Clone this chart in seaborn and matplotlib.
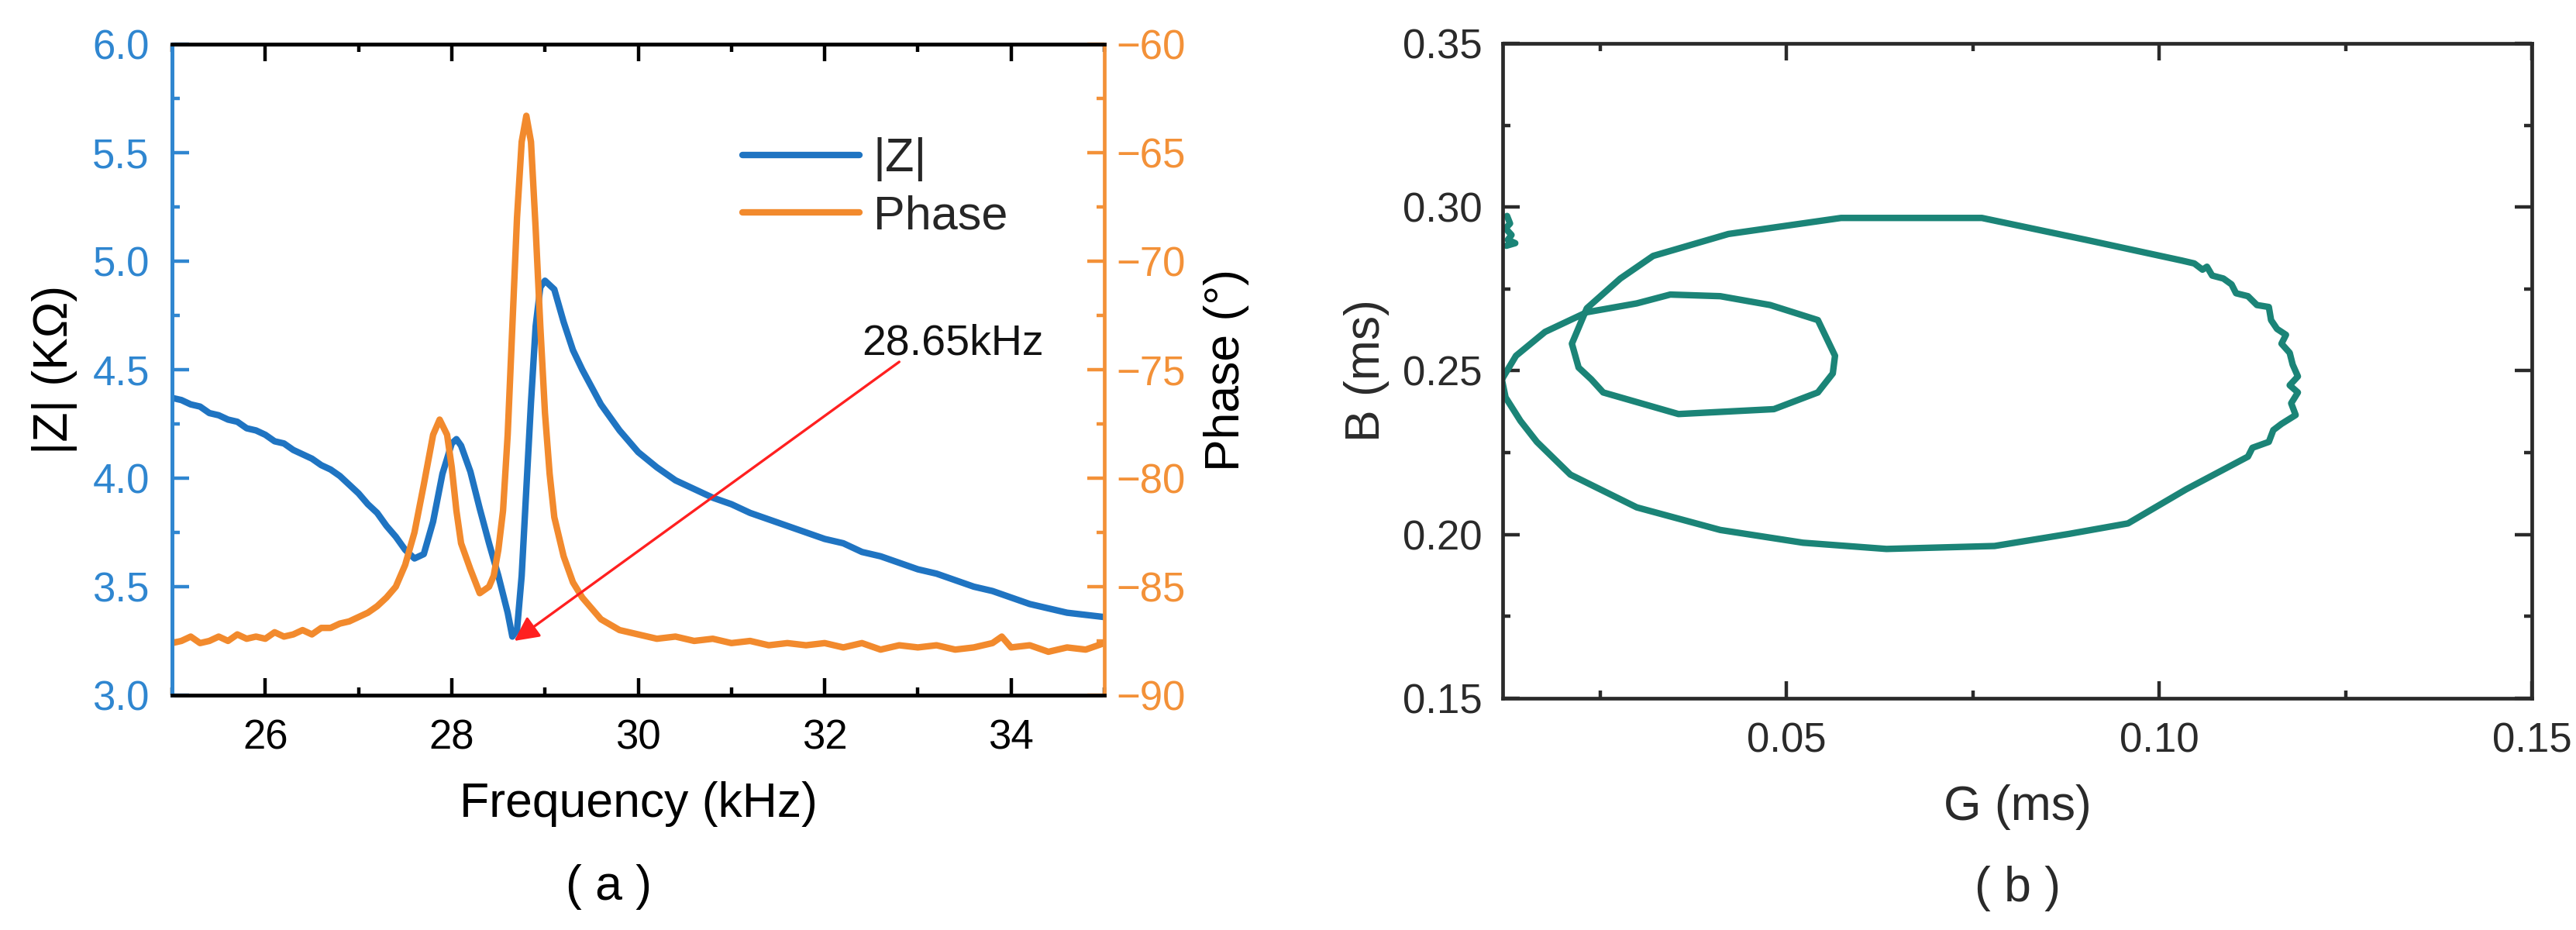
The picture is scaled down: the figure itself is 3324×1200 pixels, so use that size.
import matplotlib
matplotlib.use("Agg")
import matplotlib.pyplot as plt
from matplotlib.ticker import MultipleLocator, FormatStrFormatter
from matplotlib.lines import Line2D
import seaborn as sns

# (a) impedance and phase vs frequency
freq_z = [25.0, 25.1, 25.2, 25.3, 25.4, 25.5, 25.6, 25.7, 25.8, 25.9, 26.0, 26.1, 26.2,
          26.3, 26.4, 26.5, 26.6, 26.7, 26.8, 26.9, 27.0, 27.1, 27.2, 27.3, 27.4, 27.5,
          27.6, 27.7, 27.8, 27.9, 28.0, 28.05, 28.1, 28.2, 28.3, 28.4, 28.5, 28.6, 28.65,
          28.7, 28.75, 28.8, 28.85, 28.9, 28.95, 29.0, 29.1, 29.2, 29.3, 29.4, 29.5, 29.6,
          29.8, 30.0, 30.2, 30.4, 30.6, 30.8, 31.0, 31.2, 31.4, 31.6, 31.8, 32.0, 32.2,
          32.4, 32.6, 32.8, 33.0, 33.2, 33.4, 33.6, 33.8, 34.0, 34.2, 34.4, 34.6, 34.8, 35.0]
z_mag = [4.37, 4.36, 4.34, 4.33, 4.30, 4.29, 4.27, 4.26, 4.23, 4.22, 4.20, 4.17, 4.16,
         4.13, 4.11, 4.09, 4.06, 4.04, 4.01, 3.97, 3.93, 3.88, 3.84, 3.78, 3.73, 3.67,
         3.63, 3.65, 3.80, 4.02, 4.16, 4.18, 4.15, 4.03, 3.86, 3.70, 3.55, 3.38, 3.27,
         3.30, 3.55, 3.95, 4.35, 4.70, 4.88, 4.91, 4.87, 4.72, 4.59, 4.50, 4.42, 4.34,
         4.22, 4.12, 4.05, 3.99, 3.95, 3.91, 3.88, 3.84, 3.81, 3.78, 3.75, 3.72, 3.70,
         3.66, 3.64, 3.61, 3.58, 3.56, 3.53, 3.50, 3.48, 3.45, 3.42, 3.40, 3.38, 3.37, 3.36]

freq_p = [25.0, 25.1, 25.2, 25.3, 25.4, 25.5, 25.6, 25.7, 25.8, 25.9, 26.0, 26.1, 26.2,
          26.3, 26.4, 26.5, 26.6, 26.7, 26.8, 26.9, 27.0, 27.1, 27.2, 27.3, 27.4, 27.5,
          27.6, 27.7, 27.8, 27.87, 27.95, 28.0, 28.05, 28.1, 28.2, 28.3, 28.4, 28.45,
          28.5, 28.55, 28.6, 28.65, 28.7, 28.75, 28.8, 28.85, 28.9, 28.95, 29.0, 29.05,
          29.1, 29.2, 29.3, 29.4, 29.5, 29.6, 29.8, 30.0, 30.2, 30.4, 30.6, 30.8, 31.0,
          31.2, 31.4, 31.6, 31.8, 32.0, 32.2, 32.4, 32.6, 32.8, 33.0, 33.2, 33.4, 33.6,
          33.8, 33.9, 34.0, 34.2, 34.4, 34.6, 34.8, 35.0]
phase = [-87.6, -87.5, -87.3, -87.6, -87.5, -87.3, -87.5, -87.2, -87.4, -87.3, -87.4,
         -87.1, -87.3, -87.2, -87.0, -87.2, -86.9, -86.9, -86.7, -86.6, -86.4, -86.2,
         -85.9, -85.5, -85.0, -84.0, -82.5, -80.3, -78.0, -77.3, -78.0, -79.5, -81.5,
         -83.0, -84.2, -85.3, -85.0, -84.5, -83.3, -81.5, -78.0, -73.0, -68.0, -64.5,
         -63.3, -64.5, -68.5, -73.0, -77.0, -79.8, -81.8, -83.6, -84.8, -85.5, -86.0,
         -86.5, -87.0, -87.2, -87.4, -87.3, -87.5, -87.4, -87.6, -87.5, -87.7, -87.6,
         -87.7, -87.6, -87.8, -87.6, -87.9, -87.7, -87.8, -87.7, -87.9, -87.8, -87.6,
         -87.3, -87.8, -87.7, -88.0, -87.8, -87.9, -87.6]

# (b) admittance loop, G vs B
g_loop = [0.0118, 0.0137, 0.0176, 0.0232, 0.0299, 0.0344, 0.0411, 0.0478, 0.0542, 0.0565,
          0.0562, 0.0542, 0.0483, 0.0355, 0.0254, 0.0238, 0.0221, 0.0212, 0.0232, 0.0277,
          0.0321, 0.0422, 0.0573, 0.0762, 0.0902, 0.1030, 0.1047, 0.1058, 0.1064, 0.1071,
          0.1086, 0.1097, 0.1103, 0.1119, 0.1131, 0.1147, 0.1150, 0.1158, 0.1170, 0.1164,
          0.1175, 0.1179, 0.1186, 0.1175, 0.1186, 0.1177, 0.1183, 0.1164, 0.1153, 0.1147,
          0.1125, 0.1119, 0.1036, 0.0958, 0.0879, 0.0779, 0.0634, 0.0522, 0.0411, 0.0299,
          0.0210, 0.0165, 0.0143, 0.0123, 0.0118]
b_loop = [0.2474, 0.2546, 0.2619, 0.2679, 0.2706, 0.2733, 0.2728, 0.2701, 0.2655, 0.2546,
          0.2492, 0.2434, 0.2383, 0.2368, 0.2434, 0.2474, 0.2510, 0.2583, 0.2691, 0.2782,
          0.2851, 0.2918, 0.2967, 0.2967, 0.2900, 0.2837, 0.2828, 0.2809, 0.2818, 0.2791,
          0.2782, 0.2764, 0.2737, 0.2728, 0.2701, 0.2695, 0.2655, 0.2628, 0.2610, 0.2583,
          0.2555, 0.2519, 0.2483, 0.2456, 0.2434, 0.2401, 0.2365, 0.2338, 0.2319, 0.2283,
          0.2265, 0.2238, 0.2138, 0.2034, 0.2002, 0.1965, 0.1956, 0.1975, 0.2014, 0.2083,
          0.2183, 0.2283, 0.2347, 0.2419, 0.2474]
g_edge = [0.0125, 0.0129, 0.0123, 0.0131, 0.0126, 0.0136, 0.0124]
b_edge = [0.2973, 0.2950, 0.2935, 0.2915, 0.2900, 0.2890, 0.2882]

blue = "#1f74c2"
blue_ax = "#2f86d0"
orange = "#f28a2d"
orange_ax = "#f39138"
teal = "#1b8477"
dark = "#2a2a2a"

sns.set_theme(style="ticks")
plt.rcParams["font.family"] = ["Liberation Sans", "DejaVu Sans"]
plt.rcParams["axes.linewidth"] = 3.4

fig = plt.figure(figsize=(33.24, 12), dpi=100)
ax = fig.add_axes([0.0668, 0.2525, 0.3619, 0.7000])
ax2 = ax.twinx()
axb = fig.add_axes([0.5833, 0.2492, 0.3996, 0.7041])

tick_fs = 38
label_fs = 45
lw = 6

# --- panel (a) ---
sns.lineplot(x=freq_z, y=z_mag, ax=ax, color=blue, linewidth=lw, sort=False, estimator=None)
sns.lineplot(x=freq_p, y=phase, ax=ax2, color=orange, linewidth=lw, sort=False, estimator=None)

ax.set_xlim(25, 35)
ax.set_ylim(3.0, 6.0)
ax2.set_ylim(-90, -60)
ax.xaxis.set_major_locator(MultipleLocator(2))
ax.xaxis.set_minor_locator(MultipleLocator(1))
ax.yaxis.set_major_locator(MultipleLocator(0.5))
ax.yaxis.set_minor_locator(MultipleLocator(0.25))
ax.yaxis.set_major_formatter(FormatStrFormatter("%.1f"))
ax2.yaxis.set_major_locator(MultipleLocator(5))
ax2.yaxis.set_minor_locator(MultipleLocator(2.5))

ax.tick_params(axis="x", which="both", direction="in", top=True, bottom=True,
               colors="black", labelsize=tick_fs, pad=22, width=3.2)
ax.tick_params(axis="y", which="both", direction="in", left=True, right=False,
               colors=blue_ax, labelsize=tick_fs, pad=21, width=3.2)
ax2.tick_params(axis="y", which="both", direction="in", right=True, left=False,
                colors=orange_ax, labelsize=tick_fs, pad=11, width=3.2)
for a in (ax, ax2):
    a.tick_params(which="major", length=16)
    a.tick_params(which="minor", length=7)

ax.spines["right"].set_visible(False)
ax2.spines["left"].set_color(blue_ax)
ax.spines["left"].set_color(blue_ax)
ax2.spines["right"].set_color(orange_ax)
for a in (ax, ax2):
    a.spines["top"].set_color("black")
    a.spines["bottom"].set_color("black")

ax.set_xlabel("Frequency (kHz)", fontsize=label_fs, color="black", labelpad=22)
ax.set_ylabel("|Z| (KΩ)", fontsize=label_fs, color="black", labelpad=14)
ax2.set_ylabel("Phase (°)", fontsize=label_fs, color="black", labelpad=17)

handles = [Line2D([], [], color=blue, linewidth=lw), Line2D([], [], color=orange, linewidth=lw)]
ax2.legend(handles, ["|Z|", "Phase"], loc="upper left", bbox_to_anchor=(0.612, 0.857),
           frameon=False, fontsize=44, handlelength=2.46, handletextpad=0.3,
           labelspacing=0.28, borderpad=0, borderaxespad=0)

ax2.annotate("", xy=(28.67, 3.25), xytext=(32.80, 4.536), xycoords=ax.transData,
             textcoords=ax.transData,
             arrowprops=dict(arrowstyle="-|>", color="#ff2020", lw=2.4, mutation_scale=48,
                             shrinkA=0, shrinkB=0))
ax.text(32.40, 4.568, "28.65kHz", fontsize=40, color="#111111", ha="left", va="baseline")

# --- panel (b) ---
sns.lineplot(x=g_loop, y=b_loop, ax=axb, color=teal, linewidth=lw, sort=False, estimator=None)
sns.lineplot(x=g_edge, y=b_edge, ax=axb, color=teal, linewidth=lw, sort=False, estimator=None)
axb.set_xlim(0.0119, 0.15)
axb.set_ylim(0.15, 0.35)
axb.xaxis.set_major_locator(MultipleLocator(0.05))
axb.xaxis.set_minor_locator(MultipleLocator(0.025))
axb.yaxis.set_major_locator(MultipleLocator(0.05))
axb.yaxis.set_minor_locator(MultipleLocator(0.025))
axb.xaxis.set_major_formatter(FormatStrFormatter("%.2f"))
axb.yaxis.set_major_formatter(FormatStrFormatter("%.2f"))
axb.tick_params(axis="both", which="both", direction="in", top=True, right=True,
                colors=dark, labelsize=tick_fs, width=3.2)
axb.tick_params(axis="x", pad=22)
axb.tick_params(axis="y", pad=19)
axb.tick_params(which="major", length=16)
axb.tick_params(which="minor", length=7)
for s in axb.spines.values():
    s.set_color(dark)
axb.set_xlabel("G (ms)", fontsize=label_fs, color=dark, labelpad=22)
axb.set_ylabel("B (ms)", fontsize=label_fs, color=dark, labelpad=12)

fig.text(785 / 3324, 1 - 1145 / 1200, "( a )", fontsize=label_fs, ha="center", va="center",
         color="black")
fig.text(2603 / 3324, 1 - 1147 / 1200, "( b )", fontsize=label_fs, ha="center", va="center",
         color=dark)

fig.savefig("out.png", dpi=100, facecolor="white")
